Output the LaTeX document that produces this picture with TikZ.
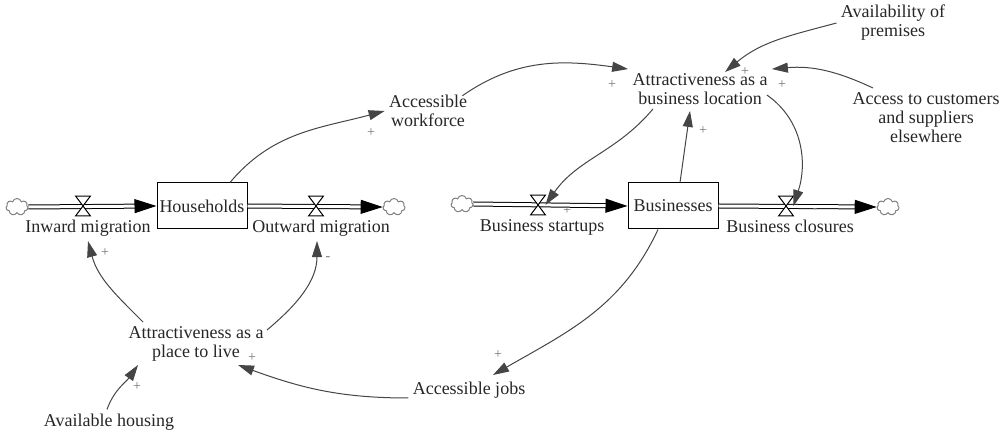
\documentclass[tikz,border=0pt]{standalone}
\usepackage{fontspec}
\setmainfont{Liberation Serif}
\usepackage{xcolor}
\usepackage{tikz}
\usetikzlibrary{positioning,arrows.meta,shapes.symbols,calc}
\definecolor{linkgray}{HTML}{454545}
\tikzset{
  lbl/.style={align=center,inner sep=2pt,font=\fontsize{9}{9.5}\selectfont,text=black!85},
  stock/.style={draw,line width=0.5pt,minimum width=45pt,minimum height=23pt,inner sep=0pt,font=\fontsize{9}{9.5}\selectfont,text=black!85},
  sink/.style={cloud,cloud puffs=7,aspect=1.3,draw=black!50,line width=0.5pt,minimum width=11pt,minimum height=8.5pt,inner sep=0pt},
  valve/.style={minimum width=7pt,minimum height=9.5pt,inner sep=0pt},
  pipe/.style={double=white,double distance=1.5pt,line width=0.5pt,-{Triangle[length=11pt,width=7pt]}},
  link/.style={draw=linkgray,line width=0.5pt,-{Triangle[length=8pt,width=5pt,fill=linkgray]}},
  sgn/.style={inner sep=0pt,font=\fontsize{7}{7}\selectfont,text=black!55},
}

\begin{document}
\begin{tikzpicture}[x=0.5pt,y=0.5pt]
\useasboundingbox (0,0) rectangle (1004,438);

% stocks, clouds and valves
\node[stock] (hh) at (202,232) {Households};
\node[sink] (src1) at (17,231) {};
\node[valve] (v1) at (83,232) {};
\node[valve] (v2) at (316,232) {};
\node[sink] (snk1) at (394,231) {};
\node[stock] (biz) at (673,232) {Businesses};
\node[sink] (src2) at (462,234) {};
\node[valve] (v3) at (538,233) {};
\node[valve] (v4) at (786,232) {};
\node[sink] (snk2) at (888,231) {};

% flows
\draw[pipe] (src1.east) -- (hh.west);
\draw[pipe] (hh.east) -- (snk1.west);
\draw[pipe] (src2.east) -- (biz.west);
\draw[pipe] (biz.east) -- (snk2.west);
\foreach \v in {v1,v2,v3,v4}
  \draw[fill=white,line width=0.5pt] (\v.north west) -- (\v.north east) -- (\v.south west) -- (\v.south east) -- cycle;

\node[lbl, below=0pt of v1, xshift=2.5pt] (inw) {Inward migration};
\node[lbl, below=0pt of v2, xshift=2.5pt] (outw) {Outward migration};
\node[lbl, below=0pt of v3, xshift=2pt] (bst) {Business startups};
\node[lbl, below=0pt of v4, xshift=2pt] (bcl) {Business closures};

% auxiliaries
\node[lbl] (aw) at (428,327) {Accessible\\workforce};
\node[lbl] (ba) at (700,349) {Attractiveness as a\\business location};
\node[lbl] (prem) at (893,415) {Availability of\\premises};
\node[lbl] (acc) at (926,320) {Access to customers\\and suppliers\\elsewhere};
\node[lbl] (ptl) at (196,94) {Attractiveness as a\\place to live};
\node[lbl] (ah) at (109,16) {Available housing};
\node[lbl] (aj) at (469,48) {Accessible jobs};

% links
\draw[link] ($(hh.north)+(28,0)$) to[out=50,in=195] (aw.west);
\draw[link] ($(aw.north east)+(-9,-5)$) to[out=35,in=172] (ba.north west);
\draw[link] (prem.west) to[out=195,in=40] ($(ba.north)+(25,-3)$);
\draw[link] ($(acc)+(-53,30)$) to[out=155,in=5] (ba.north east);
\draw[link] ($(biz.north)+(7,0)$) -- ($(ba.south)+(-10,-2)$);
\draw[link] ($(ba.south)+(-47,0)$) to[out=230,in=55] (v3.east);
\draw[link] ($(ba.east)+(-5,-6)$) to[out=-35,in=72] (v4.east);
\draw[link] ($(biz.south)+(-15,0)$) to[out=-115,in=30] ($(aj)+(24,15)$);
\draw[link] ($(aj.west)+(0,-8)$) to[out=180,in=-20] ($(ptl)+(42,-21)$);
\draw[link] ($(ah.north)+(-2,0)$) to[out=70,in=235] ($(ptl)+(-58,-21)$);
\draw[link] ($(ptl)+(-53,22)$) to[out=135,in=-75] (inw.south);
\draw[link] ($(ptl)+(71,14)$) to[out=40,in=-90] ([xshift=-2pt]outw.south);

% polarities
\node[sgn] (s1) at (371,305) {+};
\node[sgn] (s2) at (612,353) {+};
\node[sgn] (s3) at (745,366) {+};
\node[sgn] (s4) at (782,353) {+};
\node[sgn] (s5) at (703,307) {+};
\node[sgn] (s6) at (567,227) {+};
\node[sgn] (s7) at (815,227) {-};
\node[sgn] (s8) at (498,83) {+};
\node[sgn] (s9) at (252,80) {+};
\node[sgn] (s10) at (137,51) {+};
\node[sgn] (s11) at (105,185) {+};
\node[sgn] (s12) at (328,179) {-};
\end{tikzpicture}
\end{document}
